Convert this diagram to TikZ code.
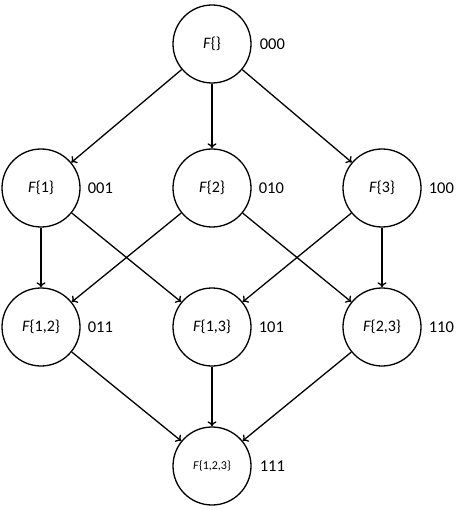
\documentclass[tikz,border=0pt]{standalone}
\usepackage{fontspec}
\setmainfont{Carlito}
\usetikzlibrary{arrows.meta}
\begin{document}
\begin{tikzpicture}[x=1pt,y=-1pt,
  setnode/.style={circle,draw,line width=1.3pt,minimum size=78pt,inner sep=0pt,font=\fontsize{16}{18}\selectfont},
  bits/.style={anchor=west,font=\fontsize{16.5}{18}\selectfont,inner sep=0pt},
  arr/.style={-{To[length=5pt,width=9pt]},line width=1.3pt}]
\useasboundingbox (0,0) rectangle (458,510);
\node[setnode] (t) at (212,44) {\textit{F}\{\}};
\node[setnode] (a1) at (41,188) {\textit{F}\{1\}};
\node[setnode] (a2) at (212,188) {\textit{F}\{2\}};
\node[setnode] (a3) at (382,188) {\textit{F}\{3\}};
\node[setnode] (b1) at (41,327) {\textit{F}\{1,2\}};
\node[setnode] (b2) at (212,327) {\textit{F}\{1,3\}};
\node[setnode] (b3) at (382,327) {\textit{F}\{2,3\}};
\node[setnode,font=\fontsize{12}{14}\selectfont] (c) at (212,466) {\textit{F}\{1,2,3\}};
\node[bits] (lt) at ([xshift=8pt]t.east) {000};
\node[bits] (la1) at ([xshift=7pt]a1.east) {001};
\node[bits] (la2) at ([xshift=7pt]a2.east) {010};
\node[bits] (la3) at ([xshift=7pt]a3.east) {100};
\node[bits] (lb1) at ([xshift=7pt]b1.east) {011};
\node[bits] (lb2) at ([xshift=7pt]b2.east) {101};
\node[bits] (lb3) at ([xshift=7pt]b3.east) {110};
\node[bits] (lc) at ([xshift=8pt]c.east) {111};
\draw[arr] (t) -- (a1);
\draw[arr] (t) -- (a2);
\draw[arr] (t) -- (a3);
\draw[arr] (a1) -- (b1);
\draw[arr] (a1) -- (b2);
\draw[arr] (a2) -- (b1);
\draw[arr] (a2) -- (b3);
\draw[arr] (a3) -- (b2);
\draw[arr] (a3) -- (b3);
\draw[arr] (b1) -- (c);
\draw[arr] (b2) -- (c);
\draw[arr] (b3) -- (c);
\end{tikzpicture}
\end{document}
